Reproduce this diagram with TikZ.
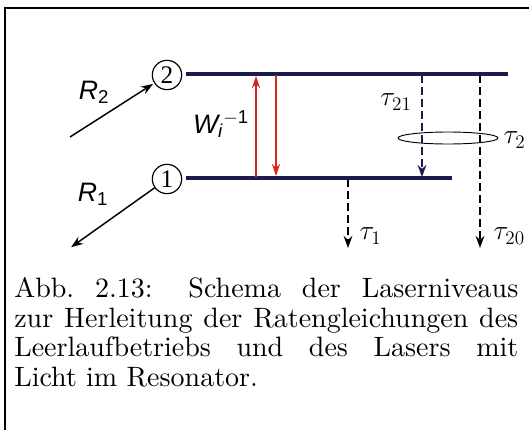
\documentclass[tikz,border=0pt]{standalone}
\usepackage{fontspec}
\usepackage{amsmath}
\usetikzlibrary{arrows.meta,positioning,calc}
\newfontfamily\helv{Liberation Sans}
\newfontfamily\tms{Liberation Serif}
\newfontfamily\capfont{lmroman10-regular.otf}
\definecolor{navy}{HTML}{1B1B4D}
\definecolor{pumpred}{HTML}{D9251D}

\begin{document}
\begin{tikzpicture}[x=0.75pt, y=-0.75pt,
  level/.style={draw=navy, line width=3.2pt},
  num/.style={draw, circle, line width=0.9pt, minimum size=22pt, inner sep=0pt, font=\tms\fontsize{19}{19}\selectfont},
  rate/.style={-{Stealth[length=9pt, width=6.5pt]}, line width=1.1pt, shorten >=1pt},
  pump/.style={-{Stealth[length=9pt, width=6pt]}, draw=pumpred, line width=1.1pt},
  decay/.style={-{Stealth[length=9pt, width=6.5pt]}, line width=1.5pt, dash pattern=on 6pt off 3pt},
  lab/.style={font=\fontsize{20}{20}\selectfont, inner sep=1pt},
]
\useasboundingbox (0,0) rectangle (529,429);
\fill[white] (-4,-4) rectangle (533,433);
% frame (cropped on the right and below)
\draw[line width=1.4pt] (5,433) -- (5,8) -- (533,8);

% levels
\coordinate (up0) at (186,74);
\coordinate (up1) at (508,74);
\coordinate (lo0) at (186,178);
\coordinate (lo1) at (452,178);
\draw[level] (up0) -- (up1);
\draw[level] (lo0) -- (lo1);
\node[num] (two) at (167,75) {2};
\node[num] (one) at (167,179) {1};

% pumping and losses of the levels
\coordinate (rtwo) at (70,137);
\coordinate (rone) at (70,248);
\draw[rate] (rtwo) -- (two);
\draw[rate] (one) -- (rone);
\node[lab] (Rtwo) at (94,92) {\helv\itshape R\textsubscript{\upshape 2}};
\node[lab] (Rone) at (93,194) {\helv\itshape R\textsubscript{\upshape 1}};

% induced transitions
\draw[pump] (256,177) -- (256,76);
\draw[pump] (276,75) -- (276,176);
\node[lab] (W) at (221,124) {\helv\itshape W\textsubscript{i}\textsuperscript{\upshape $-$1}};

% spontaneous decay
\coordinate (a21) at (422,75);
\coordinate (b21) at (422,177);
\coordinate (a20) at (480,75);
\coordinate (b20) at (480,248);
\coordinate (a1) at (348,179);
\coordinate (b1) at (348,248);
\draw[decay, navy] (a21) -- (b21);
\draw[decay] (a20) -- (b20);
\draw[decay] (a1) -- (b1);
\draw[line width=0.7pt] (448,138) ellipse [x radius=50, y radius=6];
\node[lab, anchor=west] (t2) at (502,140) {$\tau_2$};
\node[lab] (t21) at (396,102) {$\tau_{21}$};
\node[lab, anchor=west] (t1) at (358,236) {$\tau_1$};
\node[lab, anchor=west] (t20) at (492,236) {$\tau_{20}$};

% caption
\node[anchor=north west, text width=378pt, align=justify, inner sep=0pt,
  font=\capfont\fontsize{21}{22.3}\selectfont] (cap) at (14,277)
  {Abb.~2.13: Schema der Laserniveaus\linebreak zur Herleitung der Ratengleichungen des\linebreak Leerlaufbetriebs und des Lasers mit\linebreak Licht im Resonator.};
\end{tikzpicture}
\end{document}
